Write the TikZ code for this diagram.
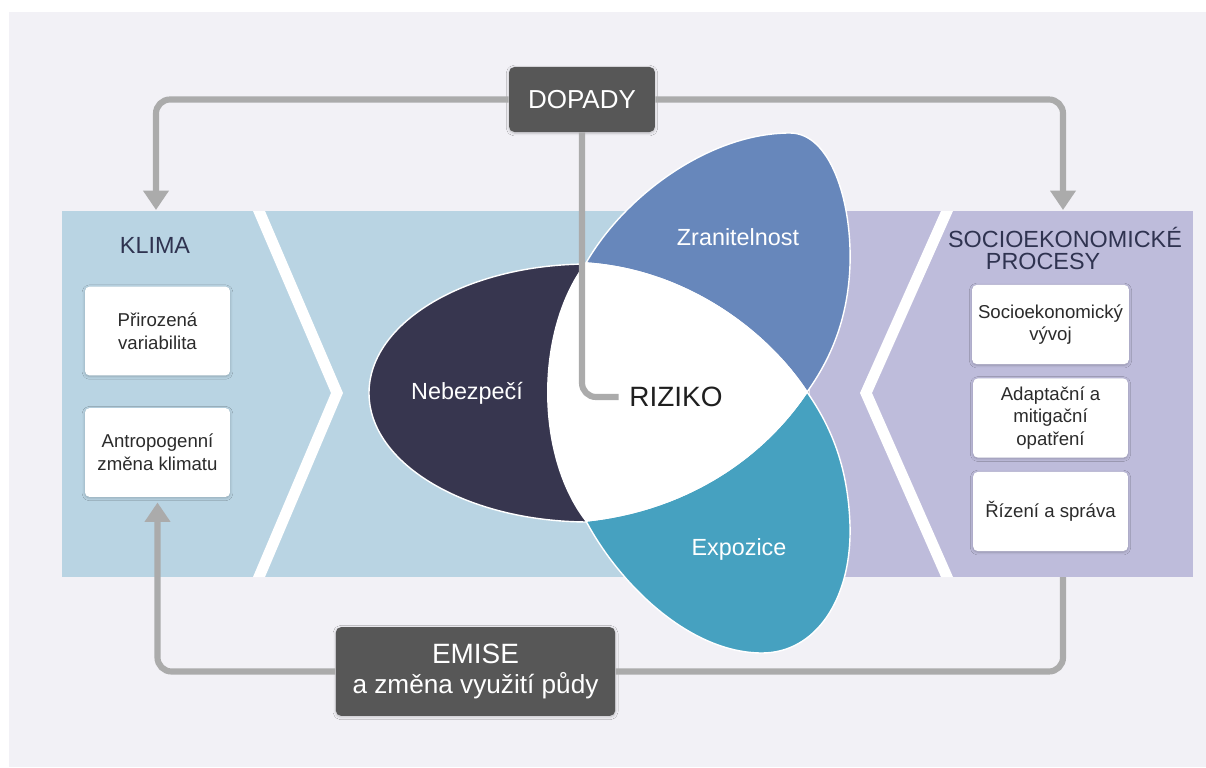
\documentclass[tikz,border=0pt]{standalone}
\usepackage{fontspec}
\setmainfont{Liberation Sans}
\usetikzlibrary{arrows.meta,shadows.blur}
\definecolor{bggray}{HTML}{F2F1F6}
\definecolor{panelblue}{HTML}{B9D4E3}
\definecolor{panelviolet}{HTML}{BEBCDB}
\definecolor{hazard}{HTML}{37364F}
\definecolor{vulner}{HTML}{6787BB}
\definecolor{expo}{HTML}{46A1C0}
\definecolor{boxdark}{HTML}{575757}
\definecolor{linegray}{HTML}{ABABAB}
\definecolor{titleblue}{HTML}{2F3350}
\definecolor{boxtext}{HTML}{2B2B2B}
\tikzset{
  whitebox/.style={fill=white,rounded corners=2.5pt,align=center,text=boxtext,
    font=\fontsize{10.6}{13}\selectfont,
    blur shadow={shadow xshift=0pt,shadow yshift=-0.6pt,shadow blur radius=1.6pt,shadow blur steps=8,shadow opacity=22,shadow blur extra rounding=1pt}},
  darkbox/.style={fill=boxdark,rounded corners=3pt,align=center,text=white,
    blur shadow={shadow xshift=0pt,shadow yshift=-0.6pt,shadow blur radius=1.6pt,shadow blur steps=8,shadow opacity=22,shadow blur extra rounding=1pt}},
  paneltitle/.style={text=titleblue,align=center,font=\fontsize{13.3}{12.5}\selectfont},
  petaltext/.style={text=white,font=\fontsize{13.3}{15}\selectfont},
  petal/.style={draw=white,line width=0.8pt},
  greyline/.style={draw=linegray,line width=3.5pt,rounded corners=8pt},
  tip/.style={-{Triangle[width=14pt,length=11pt]}}
}
\begin{document}
\begin{tikzpicture}[x=0.02cm,y=-0.02cm]
\fill[white] (0,0) rectangle (1206,767);
\fill[bggray] (9,12) rectangle (1206,767);
\useasboundingbox (0,0) rectangle (1206,767);
% panels
\fill[panelblue] (62,211) rectangle (805,577);
\fill[panelviolet] (805,211) rectangle (1193,577);
\fill[white] (253,211) -- (265,211) -- (343,393) -- (265,577) -- (253,577) -- (331,393) -- cycle;
\fill[white] (941,211) -- (953,211) -- (872,393) -- (953,577) -- (941,577) -- (860,393) -- cycle;
% petals
\filldraw[petal,fill=hazard] (589,393) ellipse [x radius=220,y radius=129];
\filldraw[petal,fill=vulner] (586,263) .. controls (625,195) and (710,133) .. (790,133)
  .. controls (830,133) and (852,200) .. (850,265)
  .. controls (848,320) and (830,360) .. (807,392)
  .. controls (770,335) and (690,270) .. cycle;
\filldraw[petal,fill=expo] (586,521) .. controls (620,585) and (690,653) .. (762,653)
  .. controls (815,653) and (852,600) .. (850,525)
  .. controls (848,465) and (830,425) .. (807,392)
  .. controls (765,455) and (690,510) .. cycle;
\filldraw[petal,fill=white] (586,263) .. controls (690,270) and (770,335) .. (807,392)
  .. controls (765,455) and (690,510) .. (586,521)
  .. controls (535,455) and (535,330) .. cycle;
\node[petaltext] (nebezpeci) at (467,393) {Nebezpečí};
\node[petaltext] (zranitelnost) at (738,237) {Zranitelnost};
\node[petaltext] (expozice) at (739,549) {Expozice};
\node[text=black!88,inner sep=6pt,font=\fontsize{15.9}{18}\selectfont] (riziko) at (676,397) {RIZIKO};
% left and right columns
\node[paneltitle] (klima) at (155,245) {KLIMA};
\node[whitebox,minimum width=82.5pt,minimum height=50.5pt] (variabilita) at (157.5,331) {Přirozená\\variabilita};
\node[whitebox,minimum width=82.5pt,minimum height=50.5pt] (antropo) at (157.5,452.5) {Antropogenní\\změna klimatu};
\node[paneltitle] (socio) at (1065,248) {SOCIOEKONOMICKÉ\\PROCESY\hspace*{25pt}};
\node[whitebox,minimum width=88pt,minimum height=45pt] (vyvoj) at (1050.5,324.5) {Socioekonomický\\vývoj};
\node[whitebox,minimum width=88pt,minimum height=45pt] (opatreni) at (1050.5,418) {Adaptační a\\mitigační\\opatření};
\node[whitebox,minimum width=88pt,minimum height=45pt] (sprava) at (1050.5,511.5) {Řízení a správa};
% dark boxes
\node[darkbox,minimum width=83pt,minimum height=37pt,font=\fontsize{14.8}{17}\selectfont] (dopady) at (582,99.5) {DOPADY};
\node[darkbox,minimum width=159pt,minimum height=50.5pt,font=\fontsize{14.9}{17}\selectfont] (emise) at (475.5,671.5) {{\fontsize{15.9}{17}\selectfont EMISE}\\a změna využití půdy};
% connectors
\coordinate (klimain) at (156,210);
\coordinate (socioin) at (1063,210);
\coordinate (socioout) at (1063,577);
\draw[greyline,tip] (dopady.west) -| (klimain);
\draw[greyline,tip] (dopady.east) -| (socioin);
\draw[greyline] (dopady.south) |- (riziko.west);
\draw[greyline,tip] (emise.west) -| ([yshift=-3pt]antropo.south);
\draw[greyline] (emise.east) -| (socioout);
\end{tikzpicture}
\end{document}
